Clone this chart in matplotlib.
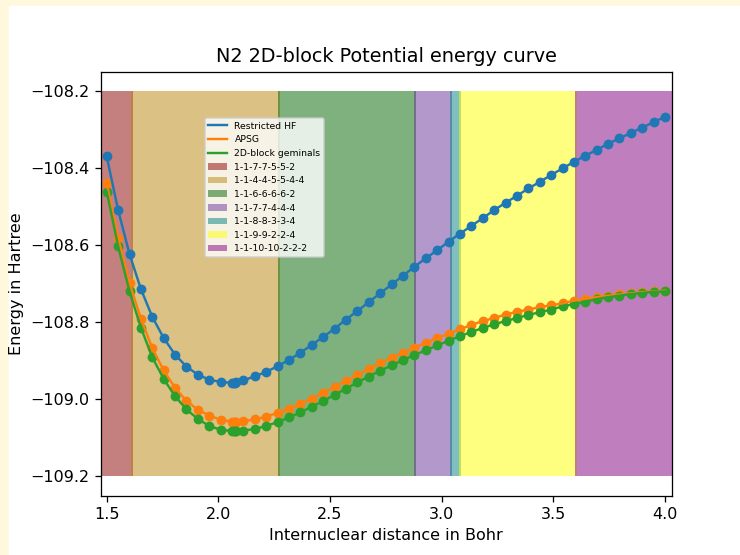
import matplotlib
matplotlib.use("Agg")
import matplotlib.pyplot as plt
from matplotlib.patches import Rectangle, Patch

# bond lengths (Bohr) and energies (Hartree)
r = [1.500, 1.551, 1.602, 1.653, 1.704, 1.755, 1.806, 1.857, 1.908, 1.959,
     2.010, 2.061, 2.068, 2.074, 2.080, 2.112, 2.163, 2.214, 2.265, 2.316,
     2.367, 2.418, 2.469, 2.520, 2.571, 2.622, 2.673, 2.724, 2.776, 2.827,
     2.878, 2.929, 2.980, 3.031, 3.082, 3.133, 3.184, 3.235, 3.286, 3.337,
     3.388, 3.439, 3.490, 3.541, 3.592, 3.643, 3.694, 3.745, 3.796, 3.847,
     3.898, 3.949, 4.000]

e_rhf = [-108.370, -108.509, -108.623, -108.714, -108.786, -108.841, -108.884,
         -108.915, -108.936, -108.949, -108.955, -108.957, -108.957, -108.957,
         -108.956, -108.951, -108.940, -108.929, -108.914, -108.898, -108.879,
         -108.859, -108.838, -108.817, -108.793, -108.771, -108.748, -108.725,
         -108.702, -108.679, -108.656, -108.634, -108.613, -108.591, -108.570,
         -108.550, -108.530, -108.509, -108.490, -108.472, -108.453, -108.436,
         -108.418, -108.401, -108.384, -108.368, -108.353, -108.337, -108.323,
         -108.309, -108.295, -108.281, -108.267]

e_apsg = [-108.440, -108.582, -108.698, -108.791, -108.867, -108.925, -108.970,
          -109.004, -109.027, -109.042, -109.053, -109.058, -109.058, -109.058,
          -109.058, -109.057, -109.052, -109.045, -109.035, -109.025, -109.011,
          -108.998, -108.983, -108.968, -108.952, -108.937, -108.921, -108.906,
          -108.892, -108.879, -108.866, -108.853, -108.841, -108.830, -108.818,
          -108.807, -108.797, -108.789, -108.780, -108.773, -108.767, -108.761,
          -108.756, -108.751, -108.744, -108.739, -108.735, -108.731, -108.728,
          -108.725, -108.722, -108.720, -108.718]

e_2db = [-108.461, -108.603, -108.720, -108.814, -108.891, -108.947, -108.992,
         -109.026, -109.051, -109.069, -109.079, -109.082, -109.082, -109.082,
         -109.082, -109.081, -109.077, -109.069, -109.059, -109.047, -109.034,
         -109.019, -109.005, -108.988, -108.973, -108.956, -108.941, -108.926,
         -108.912, -108.898, -108.885, -108.873, -108.860, -108.848, -108.836,
         -108.825, -108.815, -108.805, -108.797, -108.789, -108.781, -108.774,
         -108.767, -108.759, -108.753, -108.747, -108.740, -108.735, -108.731,
         -108.727, -108.724, -108.721, -108.720]

# block structure regions
block_edges = [1.473, 1.612, 2.272, 2.881, 3.041, 3.083, 3.601, 4.03]
block_labels = ["1-1-7-7-5-5-2", "1-1-4-4-5-5-4-4", "1-1-6-6-6-6-2",
                "1-1-7-7-4-4-4", "1-1-8-8-3-3-4", "1-1-9-9-2-2-4",
                "1-1-10-10-2-2-2"]
block_colors = ["darkred", "darkgoldenrod", "darkgreen", "rebeccapurple",
                "teal", "yellow", "purple"]

fig = plt.figure(figsize=(6.4, 4.8), dpi=115.625)
fig.add_artist(Rectangle((0, 0), 8 / 740, 1, transform=fig.transFigure,
                         color="cornsilk", zorder=-5))
fig.add_artist(Rectangle((0, 1 - 5 / 555), 1, 5 / 555, transform=fig.transFigure,
                         color="cornsilk", zorder=-5))
ax = fig.add_axes([100.7 / 740, 1 - 495.7 / 555, 571 / 740, 424 / 555])

handles = []
for i in range(len(block_labels)):
    # each block slightly overlaps its neighbour
    ax.fill_between([block_edges[i] - 0.004, block_edges[i + 1] + 0.004],
                    -109.2, -108.2, color=block_colors[i], alpha=0.5,
                    linewidth=0)
    handles.append(Patch(facecolor=block_colors[i], alpha=0.5,
                         label=block_labels[i]))

series = [(e_rhf, "C0", "Restricted HF"), (e_apsg, "C1", "APSG"),
          (e_2db, "C2", "2D-block geminals")]
for e, c, lab in series:
    ax.scatter(r, e, s=26, color=c)
line_handles = []
for e, c, lab in series:
    ln, = ax.plot(r, e, color=c, label=lab)
    line_handles.append(ln)

ax.set_xlim(1.473, 4.03)
ax.set_ylim(-109.25, -108.15)
ax.set_xticks([1.5, 2.0, 2.5, 3.0, 3.5, 4.0])
ax.set_yticks([-109.2, -109.0, -108.8, -108.6, -108.4, -108.2])
ax.set_title("N2 2D-block Potential energy curve")
ax.set_xlabel("Internuclear distance in Bohr")
ax.set_ylabel("Energy in Hartree")
ax.legend(handles=line_handles + handles, loc="upper left",
          bbox_to_anchor=(0.174, 0.902), fontsize="xx-small")

fig.savefig("out.png", dpi=115.625)
